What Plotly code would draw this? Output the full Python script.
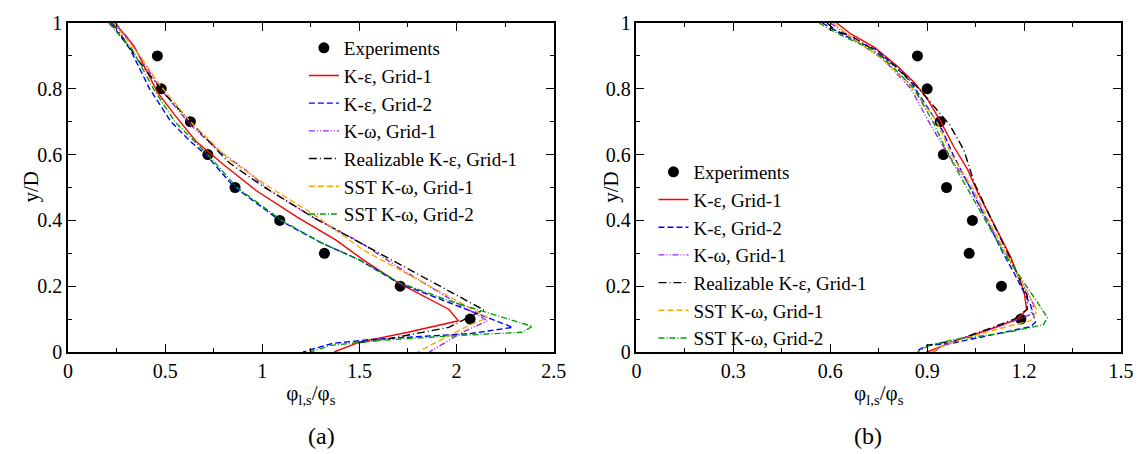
import plotly.graph_objects as go

# ---------------- data ----------------
exp_y = [0.9, 0.8, 0.7, 0.6, 0.5, 0.4, 0.3, 0.2, 0.1]
exp_a_x = [0.46, 0.48, 0.63, 0.72, 0.86, 1.09, 1.32, 1.71, 2.07]
exp_b_x = [0.87, 0.90, 0.94, 0.95, 0.96, 1.04, 1.03, 1.13, 1.19]

# Panel (a)
ke1_a_y = [1.0, 0.93, 0.86, 0.79, 0.72, 0.64, 0.57, 0.49, 0.41, 0.34, 0.28, 0.21, 0.13, 0.095, 0.06, 0.03, 0.0]
ke1_a_x = [0.24, 0.34, 0.40, 0.46, 0.55, 0.66, 0.80, 0.97, 1.18, 1.38, 1.52, 1.70, 1.96, 2.01, 1.75, 1.50, 1.37]
ke2_a_y = [1.0, 0.92, 0.80, 0.70, 0.64, 0.60, 0.505, 0.40, 0.33, 0.28, 0.21, 0.144, 0.075, 0.056, 0.038, 0.026, 0.0]
ke2_a_x = [0.22, 0.32, 0.42, 0.53, 0.63, 0.71, 0.85, 1.09, 1.31, 1.50, 1.70, 1.99, 2.29, 2.07, 1.56, 1.36, 1.21]
kw1_a_y = [1.0, 0.946, 0.80, 0.69, 0.61, 0.56, 0.49, 0.41, 0.335, 0.25, 0.153, 0.095, 0.06, 0.0]
kw1_a_x = [0.245, 0.32, 0.475, 0.63, 0.78, 0.90, 1.04, 1.26, 1.50, 1.72, 1.99, 2.16, 2.03, 1.86]
rke_a_y = [1.0, 0.88, 0.79, 0.70, 0.575, 0.505, 0.41, 0.34, 0.295, 0.21, 0.128, 0.075, 0.04, 0.029, 0.0]
rke_a_x = [0.23, 0.37, 0.49, 0.63, 0.83, 1.00, 1.26, 1.48, 1.62, 1.89, 2.14, 1.96, 1.65, 1.50, 1.50]
sst1_a_y = [1.0, 0.90, 0.81, 0.70, 0.585, 0.50, 0.42, 0.31, 0.22, 0.105, 0.08, 0.0]
sst1_a_x = [0.235, 0.37, 0.475, 0.63, 0.83, 1.04, 1.26, 1.52, 1.80, 2.16, 2.06, 1.80]
sst2_a_y = [1.0, 0.92, 0.80, 0.70, 0.60, 0.50, 0.40, 0.33, 0.28, 0.21, 0.15, 0.078, 0.06, 0.05, 0.035, 0.02, 0.0]
sst2_a_x = [0.21, 0.33, 0.44, 0.55, 0.72, 0.87, 1.10, 1.31, 1.50, 1.71, 1.99, 2.39, 2.34, 2.00, 1.60, 1.35, 1.25]

# Panel (b)
ke1_b_y = [1.0, 0.966, 0.926, 0.868, 0.819, 0.77, 0.70, 0.623, 0.555, 0.486, 0.388, 0.29, 0.183, 0.129, 0.10, 0.07, 0.036, 0.012, 0.0]
ke1_b_x = [0.62, 0.665, 0.737, 0.809, 0.86, 0.90, 0.942, 0.983, 1.025, 1.056, 1.107, 1.158, 1.20, 1.208, 1.179, 1.097, 0.994, 0.932, 0.90]
ke2_b_y = [1.0, 0.975, 0.95, 0.92, 0.87, 0.82, 0.76, 0.672, 0.60, 0.496, 0.40, 0.30, 0.24, 0.143, 0.09, 0.077, 0.06, 0.026, 0.02, 0.002]
ke2_b_x = [0.575, 0.62, 0.67, 0.74, 0.80, 0.85, 0.89, 0.948, 0.98, 1.035, 1.085, 1.135, 1.169, 1.22, 1.235, 1.22, 1.138, 0.973, 0.90, 0.865]
kw1_b_y = [1.0, 0.96, 0.887, 0.80, 0.70, 0.60, 0.50, 0.378, 0.29, 0.20, 0.143, 0.114, 0.08, 0.05, 0.02, 0.0]
kw1_b_x = [0.60, 0.66, 0.767, 0.85, 0.905, 0.965, 1.035, 1.097, 1.15, 1.20, 1.23, 1.22, 1.13, 1.03, 0.95, 0.92]
rke_b_y = [1.0, 0.975, 0.96, 0.93, 0.87, 0.80, 0.69, 0.613, 0.516, 0.40, 0.29, 0.17, 0.13, 0.10, 0.07, 0.036, 0.02, 0.0]
rke_b_x = [0.59, 0.62, 0.665, 0.716, 0.80, 0.875, 0.97, 1.014, 1.045, 1.10, 1.155, 1.21, 1.21, 1.17, 1.09, 0.99, 0.90, 0.90]
sst1_b_y = [1.0, 0.96, 0.90, 0.82, 0.70, 0.60, 0.50, 0.40, 0.29, 0.20, 0.125, 0.095, 0.07, 0.04, 0.015, 0.0]
sst1_b_x = [0.61, 0.66, 0.75, 0.84, 0.93, 0.975, 1.04, 1.09, 1.15, 1.20, 1.241, 1.22, 1.12, 1.01, 0.94, 0.915]
sst2_b_y = [1.0, 0.98, 0.955, 0.92, 0.87, 0.80, 0.692, 0.60, 0.496, 0.40, 0.30, 0.153, 0.105, 0.083, 0.06, 0.036, 0.017, 0.0]
sst2_b_x = [0.565, 0.60, 0.65, 0.73, 0.79, 0.86, 0.922, 0.965, 1.025, 1.08, 1.138, 1.24, 1.272, 1.26, 1.15, 0.973, 0.90, 0.87]

names = ["K-ε, Grid-1", "K-ε, Grid-2", "K-ω, Grid-1",
         "Realizable K-ε, Grid-1", "SST K-ω, Grid-1", "SST K-ω, Grid-2"]
colors = ["#ff0000", "#0000ff", "#a020f0", "#000000", "#ffa500", "#00a000"]
dashes = ["solid", "6px,3px", "6px,2px,1px,2px,1px,2px", "8px,3px,1px,3px",
          "6px,3px", "6px,2px,1px,2px"]

series_a = [(ke1_a_x, ke1_a_y), (ke2_a_x, ke2_a_y), (kw1_a_x, kw1_a_y),
            (rke_a_x, rke_a_y), (sst1_a_x, sst1_a_y), (sst2_a_x, sst2_a_y)]
series_b = [(ke1_b_x, ke1_b_y), (ke2_b_x, ke2_b_y), (kw1_b_x, kw1_b_y),
            (rke_b_x, rke_b_y), (sst1_b_x, sst1_b_y), (sst2_b_x, sst2_b_y)]

FONT = "Liberation Serif, Times New Roman, serif"
fig = go.Figure()

for ex, series, xa, ya, lg in [
        (exp_a_x, series_a, "x", "y", "legend"),
        (exp_b_x, series_b, "x2", "y2", "legend2")]:
    fig.add_trace(go.Scatter(x=ex, y=exp_y, mode="markers", name="Experiments",
                             marker=dict(color="black", size=11),
                             xaxis=xa, yaxis=ya, legend=lg))
    for (sx, sy), nm, c, d in zip(series, names, colors, dashes):
        fig.add_trace(go.Scatter(x=sx, y=sy, mode="lines", name=nm,
                                 line=dict(color=c, dash=d, width=1.4),
                                 xaxis=xa, yaxis=ya, legend=lg))

axis_common = dict(showgrid=False, zeroline=False, showline=True, linecolor="black",
                   linewidth=1.5, mirror="ticks", ticks="inside", ticklen=8,
                   tickcolor="black", tickwidth=1,
                   tickfont=dict(family=FONT, size=20, color="black"))

xtitle = "φ<sub>l,s</sub>/φ<sub>s</sub>"
fig.update_layout(
    width=1146, height=454,
    margin=dict(l=68, r=22, t=12, b=102),
    plot_bgcolor="white", paper_bgcolor="white",
    font=dict(family=FONT, size=20, color="black"),
    xaxis=dict(domain=[0, 0.4612], range=[0, 2.5], tick0=0, dtick=0.5,
               minor=dict(dtick=0.25, ticks="inside", ticklen=4, tickcolor="black"),
               title=dict(text=xtitle, font=dict(family=FONT, size=21), standoff=5),
               anchor="y", **axis_common),
    yaxis=dict(domain=[0, 1], range=[0, 1], tick0=0, dtick=0.2,
               minor=dict(dtick=0.1, ticks="inside", ticklen=4, tickcolor="black"),
               anchor="x", **axis_common),
    xaxis2=dict(domain=[0.5398, 1], range=[0, 1.5], tick0=0, dtick=0.3,
                minor=dict(dtick=0.15, ticks="inside", ticklen=4, tickcolor="black"),
                title=dict(text=xtitle, font=dict(family=FONT, size=21), standoff=5),
                anchor="y2", **axis_common),
    yaxis2=dict(domain=[0, 1], range=[0, 1], tick0=0, dtick=0.2,
                minor=dict(dtick=0.1, ticks="inside", ticklen=4, tickcolor="black"),
                anchor="x2", **axis_common),
    legend=dict(x=0.224, y=0.982, xanchor="left", yanchor="top",
                bgcolor="rgba(0,0,0,0)", font=dict(family=FONT, size=19),
                tracegroupgap=0, itemwidth=30),
    legend2=dict(x=0.556, y=0.605, xanchor="left", yanchor="top",
                 bgcolor="rgba(0,0,0,0)", font=dict(family=FONT, size=19),
                 tracegroupgap=0, itemwidth=30),
    showlegend=True,
)

# y-axis titles
fig.add_annotation(text="y/D", xref="paper", yref="paper", x=-0.036, y=0.503,
                   textangle=-90, showarrow=False, xanchor="center", yanchor="middle",
                   font=dict(family=FONT, size=21))
fig.add_annotation(text="y/D", xref="paper", yref="paper", x=0.515, y=0.503,
                   textangle=-90, showarrow=False, xanchor="center", yanchor="middle",
                   font=dict(family=FONT, size=21))

# panel captions
fig.add_annotation(text="(a)", xref="paper", yref="paper", x=0.2405, y=-0.254,
                   showarrow=False, font=dict(family=FONT, size=24),
                   xanchor="center", yanchor="middle")
fig.add_annotation(text="(b)", xref="paper", yref="paper", x=0.760, y=-0.254,
                   showarrow=False, font=dict(family=FONT, size=24),
                   xanchor="center", yanchor="middle")

fig.write_html("out.html")
